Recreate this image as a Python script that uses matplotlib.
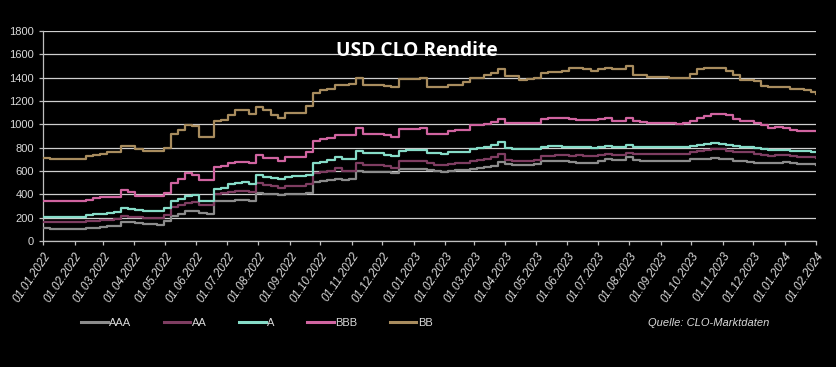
"""USD CLO Rendite – weekly spread levels per rating tranche (2022-2024)."""
import numpy as np
import pandas as pd
import matplotlib
matplotlib.use("Agg")
import matplotlib.pyplot as plt
import matplotlib.dates as mdates
from matplotlib.lines import Line2D

# weekly observations from 01.01.2022, last point at 01.02.2024
DATES = pd.date_range("2022-01-01", periods=109, freq="7D").append(
    pd.DatetimeIndex(["2024-02-01"]))

AAA = [110, 105, 105, 105, 105, 105, 110, 115, 120, 127,
       128, 165, 160, 155, 150, 150, 142, 168, 212, 234,
       254, 260, 240, 235, 340, 340, 345, 350, 355, 345,
       410, 405, 400, 394, 400, 405, 405, 410, 505, 512,
       527, 530, 527, 530, 603, 592, 592, 592, 590, 580,
       620, 618, 618, 618, 610, 600, 588, 600, 605, 610,
       615, 630, 635, 640, 675, 660, 655, 655, 655, 660,
       688, 690, 690, 685, 680, 672, 670, 670, 690, 700,
       695, 695, 720, 692, 690, 690, 690, 690, 688, 688,
       690, 700, 705, 705, 708, 705, 700, 688, 685, 680,
       672, 670, 670, 670, 675, 665, 662, 660, 658, 655]
AA = [165, 162, 162, 162, 162, 162, 170, 175, 180, 185,
      186, 218, 210, 203, 200, 195, 200, 222, 290, 305,
      328, 335, 312, 305, 400, 410, 420, 425, 430, 420,
      495, 480, 470, 458, 470, 470, 475, 485, 580, 590,
      600, 622, 602, 602, 672, 650, 652, 652, 640, 630,
      685, 688, 688, 690, 665, 655, 650, 662, 665, 670,
      688, 692, 705, 722, 745, 695, 690, 685, 685, 692,
      730, 732, 735, 735, 728, 735, 730, 728, 738, 742,
      735, 738, 750, 745, 745, 745, 748, 748, 748, 748,
      745, 760, 770, 780, 788, 785, 775, 765, 760, 760,
      748, 738, 732, 735, 735, 725, 722, 720, 718, 715]
A = [210, 210, 210, 210, 210, 210, 220, 232, 236, 244,
     246, 285, 275, 265, 260, 255, 260, 280, 345, 360,
     390, 395, 345, 340, 450, 455, 485, 495, 505, 490,
     565, 550, 540, 530, 552, 555, 555, 570, 670, 680,
     695, 718, 705, 705, 770, 752, 752, 752, 738, 725,
     775, 778, 778, 780, 755, 752, 748, 760, 762, 760,
     788, 795, 805, 825, 850, 795, 790, 788, 788, 790,
     808, 810, 812, 808, 806, 805, 803, 800, 806, 812,
     806, 808, 825, 808, 806, 806, 808, 808, 806, 805,
     802, 815, 825, 830, 840, 835, 822, 810, 805, 802,
     795, 785, 778, 778, 780, 772, 770, 768, 766, 765]
BBB = [345, 340, 340, 340, 340, 340, 355, 365, 375, 380,
       380, 435, 420, 390, 390, 385, 390, 410, 495, 530,
       580, 570, 525, 525, 635, 645, 665, 680, 680, 665,
       735, 715, 710, 690, 720, 720, 720, 765, 860, 875,
       885, 910, 905, 905, 968, 920, 920, 920, 905, 890,
       958, 962, 962, 965, 920, 920, 920, 945, 950, 955,
       990, 995, 1005, 1020, 1045, 1010, 1010, 1010, 1010, 1015,
       1045, 1050, 1055, 1055, 1045, 1040, 1040, 1040, 1048, 1050,
       1025, 1028, 1050, 1030, 1020, 1012, 1010, 1010, 1010, 1005,
       1010, 1030, 1055, 1075, 1090, 1092, 1080, 1045, 1030, 1025,
       1012, 992, 972, 975, 972, 955, 945, 945, 945, 942]
BB = [710, 700, 700, 700, 705, 705, 725, 740, 745, 760,
      760, 815, 810, 785, 775, 775, 775, 800, 915, 950,
      990, 985, 890, 890, 1030, 1040, 1080, 1120, 1120, 1090,
      1150, 1120, 1080, 1055, 1100, 1100, 1100, 1155, 1270, 1290,
      1300, 1340, 1340, 1345, 1395, 1340, 1340, 1340, 1330, 1320,
      1390, 1390, 1390, 1395, 1315, 1315, 1315, 1335, 1340, 1360,
      1395, 1400, 1420, 1440, 1470, 1410, 1415, 1380, 1385, 1400,
      1440, 1445, 1445, 1460, 1480, 1480, 1470, 1460, 1475, 1485,
      1470, 1475, 1500, 1425, 1420, 1405, 1405, 1405, 1400, 1395,
      1395, 1430, 1470, 1480, 1485, 1480, 1460, 1425, 1380, 1378,
      1370, 1330, 1315, 1318, 1318, 1300, 1298, 1295, 1275, 1260]

SERIES = ["AAA", "AA", "A", "BBB", "BB"]
COLORS = ["#8c8c8c", "#7e3d61", "#86dcc8", "#d064a0", "#a88c5e"]

FG = "#d9d9d9"
NARROW = ["Liberation Sans Narrow", "Liberation Sans", "DejaVu Sans"]

fig = plt.figure(figsize=(8.37, 3.67), dpi=100, facecolor="black")
ax = fig.add_axes([0.0514, 0.343, 0.9236, 0.573], facecolor="black")

for name, vals, col in zip(SERIES, [AAA, AA, A, BBB, BB], COLORS):
    ax.plot(DATES, vals, color=col, lw=1.6, drawstyle="steps-post", label=name,
            zorder=3)

ax.set_ylim(0, 1800)
ax.set_yticks(np.arange(0, 1801, 200))
ax.set_xlim(pd.Timestamp("2022-01-01"), pd.Timestamp("2024-02-01"))
ax.xaxis.set_major_locator(mdates.MonthLocator(bymonthday=1))
ax.xaxis.set_major_formatter(mdates.DateFormatter("%d.%m.%Y"))
ax.grid(axis="y", color="#cfcfcf", lw=0.9, zorder=1)

for s in ("top", "right"):
    ax.spines[s].set_visible(False)
for s in ("left", "bottom"):
    ax.spines[s].set_color("#bfbfbf")
    ax.spines[s].set_linewidth(0.9)
ax.tick_params(axis="both", colors="#bfbfbf", length=3, width=0.9,
               labelcolor=FG)
for lab in ax.get_yticklabels():
    lab.set_family(NARROW)
    lab.set_fontsize(8)
for lab in ax.get_xticklabels():
    lab.set_family(NARROW)
    lab.set_fontsize(8.3)
    lab.set_style("italic")
    lab.set_rotation(56)
    lab.set_ha("right")
    lab.set_rotation_mode("anchor")

ax.text(0.484, 0.905, "USD CLO Rendite", transform=ax.transAxes, ha="center",
        va="center", color="white", fontsize=13.8, fontweight="bold",
        family="Open Sans", zorder=5)

handles = [Line2D([0], [0], color=c, lw=2.2) for c in COLORS]
leg = fig.legend(handles, SERIES, loc="center left", bbox_to_anchor=(0.085, 0.12),
                 ncol=5, frameon=False, handlelength=2.4, handletextpad=0.15,
                 columnspacing=2.9, prop={"family": NARROW, "size": 8})
for t in leg.get_texts():
    t.set_color(FG)

fig.text(0.774, 0.12, "Quelle: CLO-Marktdaten", color=FG, fontsize=8,
         style="italic", family=NARROW, va="center", ha="left")

fig.savefig("out.png", dpi=100, facecolor="black")
